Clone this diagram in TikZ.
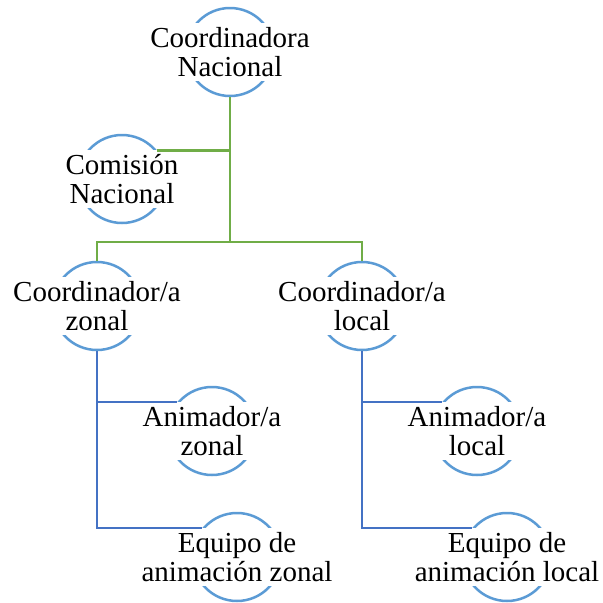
\documentclass[tikz,border=0pt]{standalone}
\usepackage{fontspec}
\setmainfont{Liberation Serif}
\definecolor{ringc}{HTML}{5B9BD5}
\definecolor{lgreen}{HTML}{70AD47}
\definecolor{lblue}{HTML}{4472C4}
\newcommand\topstrut{\rule{0pt}{24pt}}
\newcommand\botstrut{\rule[-5pt]{0pt}{5pt}}
\begin{document}
\begin{tikzpicture}[x=1pt,y=-1pt,
  ring/.style={circle, draw=ringc, line width=2.5pt, minimum size=88pt, inner sep=0pt},
  lbl/.style={fill=white, inner xsep=2pt, inner ysep=0pt, align=center, font=\fontsize{29}{29}\selectfont},
  gline/.style={draw=lgreen, line width=2.5pt},
  bline/.style={draw=lblue, line width=2.25pt}]
\useasboundingbox[fill=white] (0,0) rectangle (603,603);
\node[ring] (c1) at (230,52) {};
\node[ring] (c2) at (122,179) {};
\node[ring] (c3) at (97,306) {};
\node[ring] (c4) at (362,306) {};
\node[ring] (c5) at (212,431) {};
\node[ring] (c6) at (477,431) {};
\node[ring] (c7) at (237,557) {};
\node[ring] (c8) at (507,557) {};
\node[lbl] (t1) at (c1) {\topstrut Coordinadora\\Nacional\botstrut};
\node[lbl] (t2) at (c2) {\topstrut Comisión\\Nacional\botstrut};
\node[lbl] (t3) at (c3) {\topstrut Coordinador/a\\zonal\botstrut};
\node[lbl] (t4) at (c4) {\topstrut Coordinador/a\\local\botstrut};
\node[lbl] (t5) at (c5) {\topstrut Animador/a\\zonal\botstrut};
\node[lbl] (t6) at (c6) {\topstrut Animador/a\\local\botstrut};
\node[lbl] (t7) at (c7) {\topstrut Equipo de\\animación zonal\botstrut};
\node[lbl] (t8) at (c8) {\topstrut Equipo de\\animación local\botstrut};
\coordinate (j) at (230,242);
\draw[gline] (c1.south) -- (j);
\draw[gline] (c2.39) -- (c2.39 -| c1.south);
\draw[gline] (c3.north) |- (j) -| (c4.north);
\draw[bline] (c3.south) |- (c5.140);
\draw[bline] (c3.south) |- (c7.140);
\draw[bline] (c4.south) |- (c6.140);
\draw[bline] (c4.south) |- (c8.140);
\end{tikzpicture}
\end{document}
